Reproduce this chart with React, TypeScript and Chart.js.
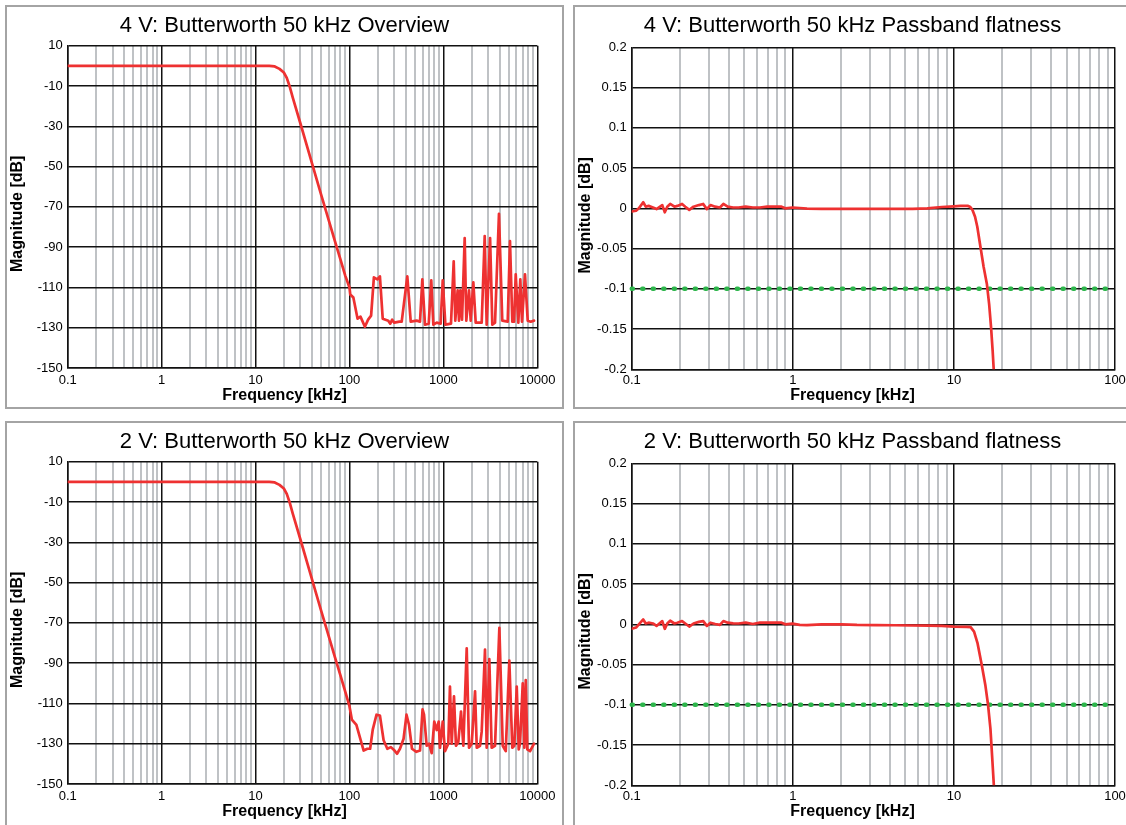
import React, { useEffect, useRef } from "react";
import { Chart, registerables } from "chart.js";

Chart.register(...registerables);

const FONT = "'Liberation Sans', Arial, Helvetica, sans-serif";
const RED = "#ee3131";
const GREEN = "#2db54b";
const BLACK = "#111111";
const GRAY = "#bfc2c5";

// ---------------- axes ----------------
const OV_X_DECADES = [0.1, 1, 10, 100, 1000, 10000];
const OV_X_LABELS = ["0.1", "1", "10", "100", "1000", "10000"];
const PB_X_DECADES = [0.1, 1, 10, 100];
const PB_X_LABELS = ["0.1", "1", "10", "100"];
const MINOR_STEPS = [2, 3, 4, 5, 6, 7, 8, 9];

const OV_Y_TICKS = [-150, -130, -110, -90, -70, -50, -30, -10, 10];
const OV_Y_LABELS = ["-150", "-130", "-110", "-90", "-70", "-50", "-30", "-10", "10"];
const PB_Y_TICKS = [-0.2, -0.15, -0.1, -0.05, 0, 0.05, 0.1, 0.15, 0.2];
const PB_Y_LABELS = ["-0.2", "-0.15", "-0.1", "-0.05", "0", "0.05", "0.1", "0.15", "0.2"];

const X_TITLE = "Frequency [kHz]";
const Y_TITLE = "Magnitude [dB]";

// ---------------- data: 4 V overview ----------------
const OV4_FREQ = [
  0.1, 1, 10, 14, 16, 18, 20, 21.5, 23, 25,
  30, 40, 50, 60, 70, 80, 90, 100, 102, 110,
  122, 131, 146, 158, 170, 182, 198, 211, 226, 259,
  272, 285, 300, 340, 360, 413, 449, 520, 564, 597,
  637, 698, 743, 782, 850, 935, 984, 1050, 1205, 1288,
  1339, 1419, 1466, 1515, 1580, 1686, 1754, 1875, 1954, 2084,
  2208, 2558, 2754, 2891, 3143, 3319, 3548, 3908, 4236, 4841,
  5120, 5420, 5664, 5890, 6282, 6594, 6871, 7395, 7907, 8511,
  9226,
];
const OV4_DB = [
  0, 0, 0, 0, -0.3, -1.5, -3.3, -6, -10, -16,
  -28.5, -48.5, -64, -76.5, -87, -96, -104, -110, -113.5, -115,
  -125.5, -124.5, -129.5, -126, -124, -105, -106, -104.5, -125.5, -126.5,
  -128, -126, -127.5, -127, -127, -104.5, -127, -126.5, -127, -106,
  -128.5, -128, -106.5, -128.5, -127.5, -128, -106.5, -128.5, -128, -97,
  -126.5, -111.5, -126.5, -111.5, -126, -85.5, -126.5, -111.5, -126.5, -107.5,
  -127.5, -127.5, -84.5, -128.5, -85.5, -128.5, -127.5, -73.5, -126.5, -127,
  -87, -127, -127, -103.5, -127.5, -106, -127, -103.5, -126.5, -127,
  -126.5,
];

// ---------------- data: 2 V overview ----------------
const OV2_FREQ = [
  0.1, 1, 10, 14, 16, 18, 20, 21.5, 23, 25,
  30, 40, 50, 60, 70, 80, 90, 100, 106, 118.5,
  141.6, 155, 166, 177, 194, 211, 231, 253, 276, 302,
  321, 345, 377, 405, 431, 463, 516, 564, 600, 622,
  664, 703, 751, 800, 849, 891, 920, 984, 1040, 1128,
  1175, 1226, 1297, 1362, 1442, 1541, 1631, 1772, 1875, 2003,
  2174, 2266, 2456, 2558, 2775, 2891, 3083, 3266, 3548, 3945,
  4285, 4613, 5036, 5420, 5690, 6040, 6340, 6545, 6998, 7278,
  7532, 7834, 8375, 9226,
];
const OV2_DB = [
  0, 0, 0, 0, -0.3, -1.5, -3.3, -6, -10, -16,
  -28.5, -48.5, -64, -76.5, -87, -96, -104, -111.4, -118, -120.7,
  -133.4, -132.5, -132.5, -123, -115.6, -116, -128.3, -132.5, -131.7, -133.4,
  -135, -132.5, -127.5, -115.6, -120.7, -132.5, -134, -133.4, -113, -115.6,
  -131, -130, -134.7, -119, -123.2, -119, -132, -119, -133.7, -130,
  -101.6, -130, -106.5, -131, -129.2, -114, -131, -82.6, -132, -130,
  -104, -132, -131, -124, -83.3, -132, -88, -132, -131, -72.5,
  -131, -133.7, -88.7, -132, -131, -101.6, -132.8, -130, -100, -132,
  -98.4, -132.8, -133.7, -130,
];

// ---------------- data: 4 V passband ----------------
const PB4_FREQ = [
  0.1, 0.1064, 0.1108, 0.1179, 0.1222, 0.1273, 0.1354, 0.1426, 0.1548, 0.1605,
  0.1663, 0.1733, 0.1842, 0.1921, 0.2054, 0.2151, 0.2277, 0.242, 0.2614, 0.2779,
  0.2927, 0.3083, 0.3297, 0.3527, 0.3707, 0.3943, 0.4263, 0.4604, 0.5098, 0.5648,
  0.6257, 0.6934, 0.7682, 0.8511, 0.8988, 0.9949, 1.104, 1.225, 1.509, 1.958,
  2.541, 3.296, 4.275, 5.546, 6.838, 8.42, 10, 11, 12.18, 12.57,
  13.04, 13.53, 13.97, 14.62, 15.3, 16.02, 16.55, 17.01, 17.4, 17.64,
  17.9,
];
const PB4_DB = [
  -0.004, -0.003, 0, 0.0075, 0.002, 0.003, 0.001, -0.001, 0.004, -0.005,
  0.002, 0.0054, 0.002, 0.003, 0.0054, 0.002, -0.002, 0.002, 0.004, 0.0054,
  -0.001, 0.004, 0.002, 0.001, 0.0054, 0.002, 0.001, 0.001, 0.002, 0.001,
  0.001, 0.002, 0.002, 0.002, 0, 0.001, 0.0004, -0.0004, -0.0008, -0.0008,
  -0.0008, -0.0008, -0.0008, -0.0008, 0, 0.0016, 0.0025, 0.003, 0.003, 0.002,
  -0.002, -0.0104, -0.023, -0.048, -0.073, -0.094, -0.119, -0.148, -0.177, -0.198,
  -0.22,
];

// ---------------- data: 2 V passband ----------------
const PB2_FREQ = [
  0.1, 0.1064, 0.1108, 0.1179, 0.1222, 0.1273, 0.1354, 0.1426, 0.1548, 0.1605,
  0.1663, 0.1733, 0.1842, 0.1921, 0.2054, 0.2151, 0.2277, 0.242, 0.2614, 0.2779,
  0.2927, 0.3083, 0.3297, 0.3527, 0.3707, 0.3943, 0.4263, 0.4604, 0.5098, 0.5648,
  0.6257, 0.6934, 0.7682, 0.8511, 0.8988, 0.9949, 1.104, 1.225, 1.509, 2.0,
  2.5, 3.3, 4.3, 5.5, 7.0, 8.4, 10, 11.98, 12.7, 13.34,
  14.0, 14.9, 15.66, 16.29, 16.86, 17.27, 17.7, 18.0,
];
const PB2_DB = [
  -0.0056, -0.004, 0, 0.006, 0.001, 0.002, 0.001, -0.002, 0.004, -0.0056,
  0.001, 0.0044, 0.001, 0.002, 0.004, 0.001, -0.0028, 0.001, 0.003, 0.004,
  -0.002, 0.002, 0.0004, -0.0008, 0.004, 0.002, 0.0012, 0.001, 0.002, 0.0004,
  0.002, 0.002, 0.002, 0.002, 0, 0.0008, -0.0008, -0.001, 0, 0,
  -0.0008, -0.001, -0.0012, -0.0015, -0.0016, -0.002, -0.0028, -0.0032, -0.0036, -0.009,
  -0.023, -0.051, -0.075, -0.1, -0.13, -0.164, -0.2, -0.23,
];

// ---------------- data: passband limit ----------------
const LIMIT_FREQ = [0.1, 100];
const LIMIT_DB = [-0.1, -0.1];

// ---------------- helpers ----------------
function buildLogTicks(decades: number[]) {
  const out: { value: number; major: boolean }[] = [];
  decades.forEach((d, i) => {
    out.push({ value: d, major: true });
    if (i < decades.length - 1) {
      MINOR_STEPS.forEach((m) => out.push({ value: +(d * m).toPrecision(6), major: false }));
    }
  });
  return out;
}

function isMajorValue(decades: number[], v: number) {
  return decades.some((d) => Math.abs(v - d) / d < 1e-6);
}

// draws the rotated y-axis title, slightly below the plot centre as in the reference
const yTitlePlugin = {
  id: "yTitleOffset",
  afterDraw(chart: any, _args: any, opts: any) {
    const { ctx, chartArea } = chart;
    if (!opts || !opts.text) return;
    ctx.save();
    ctx.translate(opts.x, (chartArea.top + chartArea.bottom) / 2 + opts.dy);
    ctx.rotate(-Math.PI / 2);
    ctx.font = `bold ${opts.size}px ${FONT}`;
    ctx.fillStyle = "#000";
    ctx.textAlign = "center";
    ctx.textBaseline = "middle";
    ctx.fillText(opts.text, 0, 0);
    ctx.restore();
  },
};

type Geom = {
  side: number; // equal left/right layout padding so titles centre on the panel
  yAxisW: number;
  titleTop: number;
  titleBottom: number;
  xAxisH: number;
  xTickPad: number;
  subBottom: number;
};

const LEFT_GEOM: Geom = { side: 26.7, yAxisW: 36, titleTop: 7.8, titleBottom: 6.5, xAxisH: 17.9, xTickPad: 4.5, subBottom: 3.9 };
const RIGHT_GEOM: Geom = { side: 17, yAxisW: 41.7, titleTop: 7.8, titleBottom: 8.1, xAxisH: 16.6, xTickPad: 3, subBottom: 3.9 };

const PANEL_W = 559;
const PANEL_H = 404;

type PanelCfg = {
  left: number;
  top: number;
  frameH: number;
  title: string;
  freq: number[];
  db: number[];
  xDecades: number[];
  xLabels: string[];
  yTicks: number[];
  yLabels: string[];
  limit: boolean;
  geom: Geom;
};

function PlotPanel({ cfg }: { cfg: PanelCfg }) {
  const ref = useRef<HTMLCanvasElement | null>(null);
  useEffect(() => {
    const canvas = ref.current;
    if (!canvas) return;
    const g = cfg.geom;
    const xTicks = buildLogTicks(cfg.xDecades);
    const datasets: any[] = [
      {
        data: cfg.freq.map((f, i) => ({ x: f, y: cfg.db[i] })),
        borderColor: RED,
        borderWidth: 2.7,
        pointRadius: 0,
        tension: 0,
        borderJoinStyle: "round",
        borderCapStyle: "round",
        order: 0,
        clip: 0,
      },
    ];
    if (cfg.limit) {
      datasets.push({
        data: LIMIT_FREQ.map((f, i) => ({ x: f, y: LIMIT_DB[i] })),
        borderColor: GREEN,
        borderWidth: 4.4,
        borderDash: [1.2, 9.31],
        borderCapStyle: "round",
        pointRadius: 0,
        tension: 0,
        order: 1,
        clip: false,
      });
    }
    const xMin = cfg.xDecades[0];
    const xMax = cfg.xDecades[cfg.xDecades.length - 1];
    const chart = new Chart(canvas, {
      type: "line",
      data: { datasets },
      plugins: [yTitlePlugin],
      options: {
        responsive: false,
        maintainAspectRatio: false,
        animation: false,
        events: [],
        layout: { padding: { left: g.side, right: g.side, top: 0, bottom: 0 } },
        plugins: {
          legend: { display: false },
          tooltip: { enabled: false },
          title: {
            display: true,
            text: cfg.title,
            color: "#000",
            font: { family: FONT, size: 22, weight: "normal", lineHeight: 1.2 },
            padding: { top: g.titleTop, bottom: g.titleBottom },
          },
          subtitle: {
            display: true,
            position: "bottom",
            text: X_TITLE,
            color: "#000",
            font: { family: FONT, size: 16, weight: "bold", lineHeight: 1.2 },
            padding: { top: 0, bottom: g.subBottom },
          },
          yTitleOffset: { text: Y_TITLE, x: 12.5, dy: 7, size: 16 },
        },
        scales: {
          x: {
            type: "logarithmic",
            min: xMin,
            max: xMax,
            afterBuildTicks: (scale: any) => {
              scale.ticks = xTicks.map((t) => ({ value: t.value, major: false }));
            },
            afterFit: (scale: any) => {
              scale.height = g.xAxisH;
            },
            ticks: {
              autoSkip: false,
              maxRotation: 0,
              minRotation: 0,
              padding: g.xTickPad,
              color: "#000",
              font: { family: FONT, size: 13 },
              callback: (value: any) => {
                const idx = cfg.xDecades.findIndex((d) => Math.abs(value - d) / d < 1e-6);
                return idx >= 0 ? cfg.xLabels[idx] : "";
              },
            },
            grid: {
              z: -1,
              drawTicks: false,
              color: (ctx: any) => (ctx.tick && isMajorValue(cfg.xDecades, ctx.tick.value) ? BLACK : GRAY),
              lineWidth: (ctx: any) => (ctx.tick && isMajorValue(cfg.xDecades, ctx.tick.value) ? 1.5 : 2),
            },
            border: { display: true, color: BLACK, width: 1.5 },
          },
          y: {
            type: "linear",
            min: cfg.yTicks[0],
            max: cfg.yTicks[cfg.yTicks.length - 1],
            afterBuildTicks: (scale: any) => {
              scale.ticks = cfg.yTicks.map((v) => ({ value: v }));
            },
            afterFit: (scale: any) => {
              scale.width = g.yAxisW;
            },
            ticks: {
              padding: 5,
              color: "#000",
              font: { family: FONT, size: 13 },
              callback: (_value: any, index: number) => cfg.yLabels[index],
            },
            grid: { drawTicks: false, color: BLACK, lineWidth: 1.5 },
            border: { display: true, color: BLACK, width: 1.5 },
            title: { display: false, text: Y_TITLE },
          },
        },
      } as any,
    });
    return () => chart.destroy();
  }, [cfg]);

  return (
    <>
      <div
        style={{
          position: "absolute",
          left: cfg.left,
          top: cfg.top,
          width: PANEL_W,
          height: cfg.frameH,
          boxSizing: "border-box",
          border: "2px solid #a4a4a4",
          background: "#fff",
        }}
      />
      <canvas
        ref={ref}
        width={PANEL_W}
        height={PANEL_H}
        style={{ position: "absolute", left: cfg.left, top: cfg.top, width: PANEL_W, height: PANEL_H }}
      />
    </>
  );
}

const PANELS: PanelCfg[] = [
  {
    left: 5, top: 5, frameH: PANEL_H, title: "4 V: Butterworth 50 kHz Overview",
    freq: OV4_FREQ, db: OV4_DB, xDecades: OV_X_DECADES, xLabels: OV_X_LABELS,
    yTicks: OV_Y_TICKS, yLabels: OV_Y_LABELS, limit: false, geom: LEFT_GEOM,
  },
  {
    left: 573, top: 5, frameH: PANEL_H, title: "4 V: Butterworth 50 kHz Passband flatness",
    freq: PB4_FREQ, db: PB4_DB, xDecades: PB_X_DECADES, xLabels: PB_X_LABELS,
    yTicks: PB_Y_TICKS, yLabels: PB_Y_LABELS, limit: true, geom: RIGHT_GEOM,
  },
  {
    left: 5, top: 421, frameH: PANEL_H + 8, title: "2 V: Butterworth 50 kHz Overview",
    freq: OV2_FREQ, db: OV2_DB, xDecades: OV_X_DECADES, xLabels: OV_X_LABELS,
    yTicks: OV_Y_TICKS, yLabels: OV_Y_LABELS, limit: false, geom: LEFT_GEOM,
  },
  {
    left: 573, top: 421, frameH: PANEL_H + 8, title: "2 V: Butterworth 50 kHz Passband flatness",
    freq: PB2_FREQ, db: PB2_DB, xDecades: PB_X_DECADES, xLabels: PB_X_LABELS,
    yTicks: PB_Y_TICKS, yLabels: PB_Y_LABELS, limit: true, geom: RIGHT_GEOM,
  },
];

export default function App() {
  return (
    <div
      style={{
        position: "fixed",
        left: 0,
        top: 0,
        width: 1126,
        height: 825,
        overflow: "hidden",
        background: "#fff",
      }}
    >
      {PANELS.map((p, i) => (
        <PlotPanel key={i} cfg={p} />
      ))}
    </div>
  );
}
